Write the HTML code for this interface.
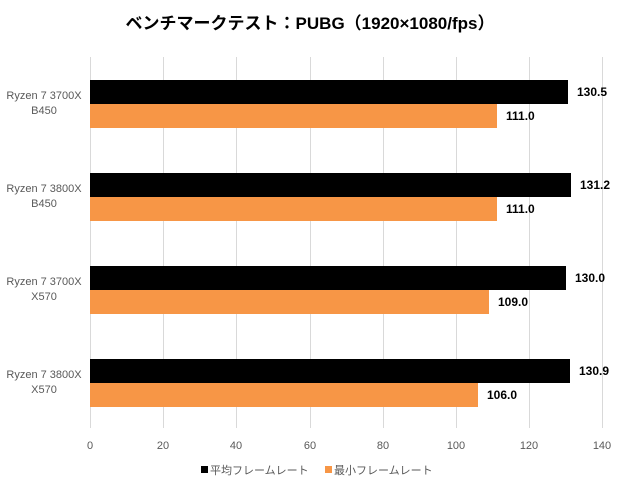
<!DOCTYPE html>
<html><head><meta charset="utf-8"><style>
body{margin:0;background:#fff;}
svg{display:block;font-family:"Liberation Sans","Noto Sans CJK JP",sans-serif;}
</style></head><body>
<svg width="620" height="485" xmlns="http://www.w3.org/2000/svg">
<rect width="620" height="485" fill="#fff"/>
<text x="310" y="29" text-anchor="middle" font-size="17" font-weight="bold" fill="#000">ベンチマークテスト：PUBG（1920×1080/fps）</text>
<g stroke="#d9d9d9" stroke-width="1">
<line x1="90.5" y1="57" x2="90.5" y2="428"/>
<line x1="163.5" y1="57" x2="163.5" y2="428"/>
<line x1="236.5" y1="57" x2="236.5" y2="428"/>
<line x1="310.5" y1="57" x2="310.5" y2="428"/>
<line x1="383.5" y1="57" x2="383.5" y2="428"/>
<line x1="456.5" y1="57" x2="456.5" y2="428"/>
<line x1="529.5" y1="57" x2="529.5" y2="428"/>
<line x1="602.5" y1="57" x2="602.5" y2="428"/>
</g>
<g fill="#000">
<rect x="90" y="80" width="478" height="24"/>
<rect x="90" y="173" width="481" height="24"/>
<rect x="90" y="266" width="476" height="24"/>
<rect x="90" y="359" width="480" height="24"/>
</g>
<g fill="#f79646">
<rect x="90" y="104" width="407" height="24"/>
<rect x="90" y="197" width="407" height="24"/>
<rect x="90" y="290" width="399" height="24"/>
<rect x="90" y="383" width="388" height="24"/>
</g>
<g font-size="12" font-weight="bold" fill="#000">
<text x="577" y="96">130.5</text><text x="506" y="120">111.0</text>
<text x="580" y="189">131.2</text><text x="506" y="213">111.0</text>
<text x="575" y="282">130.0</text><text x="498" y="306">109.0</text>
<text x="579" y="375">130.9</text><text x="487" y="399">106.0</text>
</g>
<g font-size="11" fill="#595959" text-anchor="middle">
<text x="44" y="99">Ryzen 7 3700X</text><text x="44" y="114">B450</text>
<text x="44" y="192">Ryzen 7 3800X</text><text x="44" y="207">B450</text>
<text x="44" y="285">Ryzen 7 3700X</text><text x="44" y="300">X570</text>
<text x="44" y="378">Ryzen 7 3800X</text><text x="44" y="393">X570</text>
</g>
<g font-size="11" fill="#595959" text-anchor="middle">
<text x="90" y="449">0</text><text x="163" y="449">20</text><text x="236" y="449">40</text><text x="310" y="449">60</text>
<text x="383" y="449">80</text><text x="456" y="449">100</text><text x="529" y="449">120</text><text x="602" y="449">140</text>
</g>
<rect x="201" y="466" width="7" height="7" fill="#000"/>
<text x="210" y="474" font-size="11" fill="#595959">平均フレームレート</text>
<rect x="325" y="466" width="7" height="7" fill="#f79646"/>
<text x="334" y="474" font-size="11" fill="#595959">最小フレームレート</text>
</svg>
</body></html>
